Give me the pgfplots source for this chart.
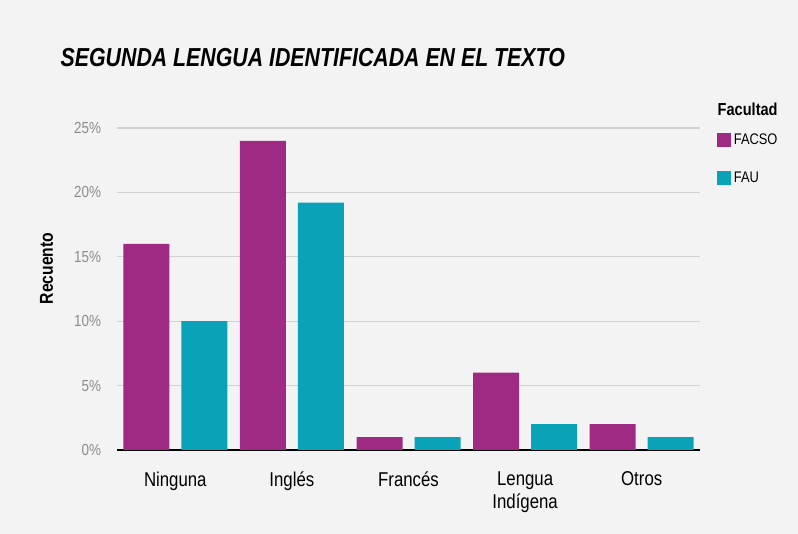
\documentclass[border=0pt]{standalone}
\usepackage{fontspec}
\setmainfont{Liberation Sans}[FakeStretch=0.84]
\newfontfamily\titlefont{Liberation Sans}[FakeStretch=0.82]
\usepackage{pgfplots}
\pgfplotsset{compat=1.18}
\definecolor{facso}{HTML}{9E2A84}
\definecolor{fau}{HTML}{0AA2B6}
\definecolor{paper}{HTML}{F3F3F3}
\definecolor{ticktxt}{HTML}{8C8C8C}
\definecolor{gridc}{HTML}{D2D2D2}
\def\px{0.75pt}

\begin{document}
\begin{tikzpicture}
\fill[paper] (0,0) rectangle (798*\px,534*\px);
\begin{axis}[
  at={(117*\px,84*\px)}, anchor=south west,
  scale only axis, width=583*\px, height=322*\px,
  xmin=-0.5, xmax=4.5, ymin=0, ymax=25,
  ybar=9pt, bar width=34.5pt,
  axis x line*=bottom, axis y line*=left,
  y axis line style={draw=none},
  x axis line style={line width=2.2pt, black},
  major tick length=0pt,
  xtick={0,1,2,3,4},
  xticklabels={Ninguna,Inglés,Francés,{Lengua\\Indígena},Otros},
  xticklabel style={align=center, font=\fontsize{15}{17.5}\selectfont, yshift=-12.8pt},
  ytick={0,5,10,15,20,25},
  yticklabels={0\%,5\%,10\%,15\%,20\%,25\%},
  yticklabel style={ticktxt, font=\fontsize{12}{14}\selectfont, xshift=-8.5pt},
  ymajorgrids, grid style={gridc, line width=0.8pt},
  clip=false,
  legend style={at={(1.029,0.99)}, anchor=north west, draw=none, fill=none,
    font=\fontsize{11.5}{13}\selectfont, row sep=15pt, inner sep=0pt},
  legend cell align=left,
  legend image code/.code={\fill[#1,draw=none] (0pt,-5pt) rectangle (10.5pt,5.5pt);},
]
\addplot[fill=facso, draw=none] coordinates {(0,16) (1,24) (2,1) (3,6) (4,2)};
\addlegendentry{FACSO}
\addplot[fill=fau, draw=none] coordinates {(0,10) (1,19.2) (2,1) (3,2) (4,1)};
\addlegendentry{FAU}
\end{axis}
\node[anchor=base west, font=\titlefont\bfseries\itshape\fontsize{19.5}{22}\selectfont] at (56*\px,467*\px) {SEGUNDA LENGUA IDENTIFICADA EN EL TEXTO};
\node[anchor=base west, font=\bfseries\fontsize{13}{15}\selectfont] at (713*\px,418*\px) {Facultad};
\node[rotate=90, font=\bfseries\fontsize{14}{16}\selectfont] at (46.5*\px,265.5*\px) {Recuento};
\end{tikzpicture}
\end{document}
